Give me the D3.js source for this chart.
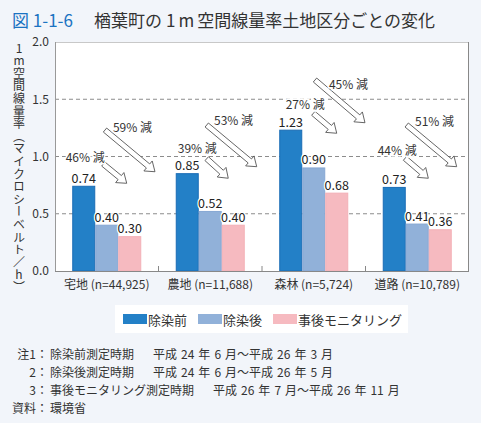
<!DOCTYPE html>
<html><head><meta charset="utf-8">
<script src="https://cdn.jsdelivr.net/npm/d3@7"></script>
<style>
html,body{margin:0;padding:0;background:#f2f5fa;}
svg{display:block;font-family:"Noto Sans CJK JP","Noto Sans",sans-serif;}
</style></head>
<body><svg id="c" width="481" height="423"></svg>
<script>
const categories = ["宅地 (n=44,925)", "農地 (n=11,688)", "森林 (n=5,724)", "道路 (n=10,789)"];
const seriesNames = ["除染前", "除染後", "事後モニタリング"];
const before = [0.74, 0.85, 1.23, 0.73];
const after = [0.40, 0.52, 0.90, 0.41];
const monitoring = [0.30, 0.40, 0.68, 0.36];
const yTicks = [0.0, 0.5, 1.0, 1.5, 2.0];
const shortReduction = ["46% 減", "39% 減", "27% 減", "44% 減"];
const longReduction = ["59% 減", "53% 減", "45% 減", "51% 減"];
// annotation anchors in chart units: [category position, value]
const shortArrowFrom = [[0.467, 0.934], [1.466, 0.981], [2.496, 1.377], [3.382, 0.984]];
const shortArrowTo   = [[0.693, 0.766], [1.674, 0.810], [2.722, 1.203], [3.607, 0.810]];
const longArrowFrom  = [[0.483, 1.231], [1.466, 1.275], [2.512, 1.668], [3.398, 1.275]];
const longArrowTo    = [[0.966, 0.867], [1.949, 0.911], [2.995, 1.295], [3.881, 0.911]];
const shortLabelAt   = [[0.103, 0.998], [1.186, 1.078], [2.229, 1.459], [3.118, 1.065]];
const longLabelAt    = [[0.560, 1.266], [1.536, 1.319], [2.647, 1.639], [3.478, 1.313]];
const yTitle = "1m空間線量率（マイクロシーベルト／h）";
const notes = [
  ["注1：", "除染前測定時期", "平成24年6月～平成26年3月"],
  ["2：", "除染後測定時期", "平成24年6月～平成26年5月"],
  ["3：", "事後モニタリング測定時期", "平成26年7月～平成26年11月"],
  ["資料：", "環境省", ""]
];

const colors = ["#2380c7", "#91b1d9", "#f6bac0"];
const strokes = ["#1a6cb5", "#86a7d3", "#f3b0b7"];
const series = [before, after, monitoring];

const svg = d3.select("#c");
const L = 55, R = 469, T = 42, B = 271;

// title
const title = svg.append("text").attr("x", 12).attr("y", 27).attr("font-size", 17);
title.append("tspan").attr("fill", "#1b73c2").text("図 1-1-6");
const t2 = [["楢葉町の", 0], ["1", 4], ["m", 3], ["空間線量率土地区分ごとの変化", 3]];
t2.forEach((s, k) => {
  const ts = title.append("tspan").attr("fill", "#333").text(s[0]);
  if (k === 0) ts.attr("x", 94); else ts.attr("dx", s[1]);
});

// plot area
svg.append("rect").attr("x", L).attr("y", T).attr("width", R - L).attr("height", B - T).attr("fill", "#fff");

const x = d3.scaleBand().domain(categories).range([L, R]).paddingInner(1/3).paddingOuter(1/6);
const xs = d3.scaleBand().domain(d3.range(3)).range([0, x.bandwidth()]);
const xc = d3.scaleLinear().domain([0, 4]).range([L, R]);
const y = d3.scaleLinear().domain([0, 2]).range([B, T]);

// grid
svg.append("g").selectAll("line").data(yTicks.filter(v => v > 0 && v < 2)).join("line")
  .attr("x1", L).attr("x2", R).attr("y1", d => y(d)).attr("y2", d => y(d))
  .attr("stroke", "#8c8c8c").attr("stroke-dasharray", "4,3").attr("stroke-width", 1);

// borders
svg.append("line").attr("x1", L).attr("x2", R).attr("y1", T + 0.5).attr("y2", T + 0.5).attr("stroke", "#c8c8c8");
svg.append("line").attr("x1", L + 0.5).attr("x2", L + 0.5).attr("y1", T).attr("y2", B).attr("stroke", "#999");
svg.append("line").attr("x1", R - 0.5).attr("x2", R - 0.5).attr("y1", T).attr("y2", B).attr("stroke", "#888");

// y axis labels
const yAxis = d3.axisLeft(y).tickValues(yTicks).tickFormat(d3.format(".1f")).tickSize(0).tickPadding(6);
const ga = svg.append("g").attr("transform", `translate(${L},0)`).call(yAxis);
ga.select(".domain").remove();
ga.selectAll("text").attr("font-size", 12).attr("fill", "#333").attr("font-family", "'Noto Sans CJK JP',sans-serif");

// bars
categories.forEach((c, i) => {
  series.forEach((s, j) => {
    svg.append("rect")
      .attr("x", x(c) + xs(j) + 0.5).attr("y", y(s[i]))
      .attr("width", xs.bandwidth() - 1).attr("height", B - y(s[i]))
      .attr("fill", colors[j]).attr("stroke", strokes[j]).attr("stroke-width", 1);
    svg.append("text").attr("x", x(c) + xs(j) + xs.bandwidth() / 2).attr("y", y(s[i]) - 3.5)
      .attr("text-anchor", "middle").attr("font-size", 12.5).attr("fill", "#222")
      .attr("stroke", "#fff").attr("stroke-width", 2.5).attr("paint-order", "stroke")
      .text(d3.format(".2f")(s[i]));
  });
});

// bottom axis
const gb = svg.append("g").attr("transform", `translate(0,${B})`)
  .call(d3.axisBottom(x).tickSize(0).tickPadding(9));
gb.select(".domain").remove();
gb.selectAll("text").attr("font-size", 12).attr("fill", "#333").attr("font-family", "'Noto Sans CJK JP',sans-serif");
svg.append("line").attr("x1", L).attr("x2", R).attr("y1", B + 0.5).attr("y2", B + 0.5).attr("stroke", "#888");
svg.append("g").selectAll("line").data([1, 2, 3]).join("line")
  .attr("x1", d => xc(d)).attr("x2", d => xc(d)).attr("y1", B).attr("y2", B - 5).attr("stroke", "#888");

// arrows
function arrowPath(p1, p2, w, hw, hl) {
  const x1 = xc(p1[0]), y1 = y(p1[1]), x2 = xc(p2[0]), y2 = y(p2[1]);
  const dx = x2 - x1, dy = y2 - y1, len = Math.hypot(dx, dy);
  const ux = dx / len, uy = dy / len, nx = -uy, ny = ux;
  const bx = x2 - ux * hl, by = y2 - uy * hl;
  const pts = [
    [x1 + nx * w, y1 + ny * w], [bx + nx * w, by + ny * w], [bx + nx * hw, by + ny * hw],
    [x2, y2], [bx - nx * hw, by - ny * hw], [bx - nx * w, by - ny * w], [x1 - nx * w, y1 - ny * w]
  ];
  return "M" + pts.map(p => p.join(",")).join("L") + "Z";
}
const ag = svg.append("g");
for (let i = 0; i < 4; i++) {
  [[longArrowFrom[i], longArrowTo[i]], [shortArrowFrom[i], shortArrowTo[i]]].forEach(a => {
    ag.append("path").attr("d", arrowPath(a[0], a[1], 2.6, 6.5, 9))
      .attr("fill", "#fff").attr("stroke", "#555").attr("stroke-width", 0.9).attr("stroke-linejoin", "miter");
  });
  [[shortLabelAt[i], shortReduction[i]], [longLabelAt[i], longReduction[i]]].forEach(t => {
    ag.append("text").attr("x", xc(t[0][0])).attr("y", y(t[0][1]))
      .attr("dominant-baseline", "central").attr("font-size", 12).attr("fill", "#333")
      .attr("stroke", "#fff").attr("stroke-width", 3).attr("paint-order", "stroke")
      .text(t[1]);
  });
}

// y title in vertical writing mode
svg.append("text").attr("x", 19).attr("y", 42)
  .attr("style", "writing-mode: vertical-rl; text-orientation: upright; letter-spacing: 0.6px;")
  .attr("font-size", 12).attr("fill", "#333")
  .text(yTitle);

// legend
svg.append("rect").attr("x", 115).attr("y", 305).attr("width", 293).attr("height", 28).attr("fill", "#fff");
const legX = [123, 198, 273];
seriesNames.forEach((n, j) => {
  svg.append("rect").attr("x", legX[j]).attr("y", 314).attr("width", 24).attr("height", 10).attr("fill", colors[j]);
  svg.append("text").attr("x", legX[j] + 25).attr("y", 319).attr("dominant-baseline", "central")
    .attr("font-size", 13).attr("fill", "#333").text(n);
});

// notes
const noteY = [353, 371, 389, 407];
notes.forEach((n, i) => {
  svg.append("text").attr("x", 48).attr("y", noteY[i]).attr("text-anchor", "end").attr("dominant-baseline", "central")
    .attr("font-size", 12).attr("fill", "#333").text(n[0]);
  const t = svg.append("text").attr("x", 50).attr("y", noteY[i]).attr("dominant-baseline", "central")
    .attr("font-size", 12).attr("fill", "#333");
  t.append("tspan").text(n[1]);
  if (n[2]) {
    const parts = n[2].split(/(\d+)/).filter(p => p.length);
    let prevDigit = false;
    parts.forEach((p, k) => {
      const isDigit = /^\d+$/.test(p);
      let dx = 0;
      if (k === 0) dx = 19;
      else if (isDigit || prevDigit) dx = 4;
      t.append("tspan").attr("dx", dx).text(p);
      prevDigit = isDigit;
    });
  }
});
</script></body></html>
